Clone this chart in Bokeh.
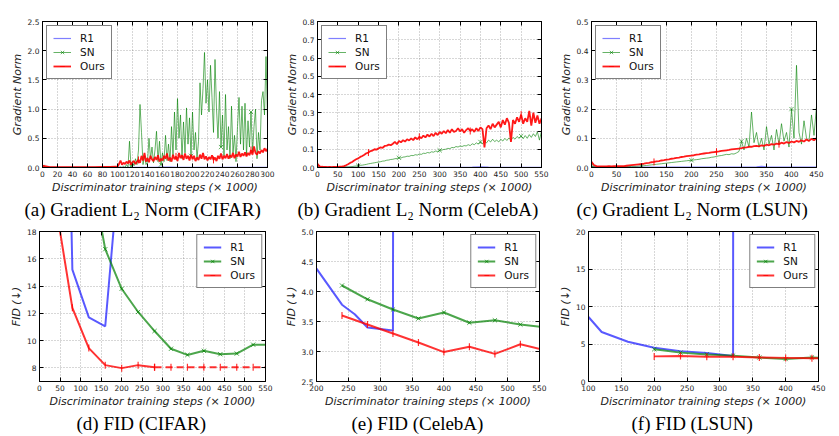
from bokeh.plotting import figure
from bokeh.layouts import column, row
from bokeh.models import (FixedTicker, PrintfTickFormatter, Range1d, Legend, LegendItem,
                          Title, LinearAxis)
from bokeh.embed import file_html
from bokeh.resources import INLINE

# ---------------- data: (a) gradient norm, CIFAR ----------------
a_head_x = [0, 10, 20, 30, 40, 50, 60, 70, 80, 90, 98]
a_sn_head = [0.010, 0.004, 0.003, 0.003, 0.004, 0.003, 0.003, 0.004, 0.005, 0.008, 0.005]
a_ours_head = [0.030, 0.008, 0.006, 0.006, 0.007, 0.006, 0.008, 0.008, 0.010, 0.012, 0.015]
a_x = list(range(100, 301, 2))
a_sn = [0.00, 0.00, 0.01, 0.00, 0.02, 0.00, 0.05, 0.01, 0.45, 0.02,
        0.10, 0.03, 0.15, 0.05, 0.30, 1.08, 0.60, 0.05, 0.20, 0.05,
        0.10, 0.50, 0.15, 0.35, 0.08, 0.30, 0.62, 0.10, 0.45, 0.05,
        0.25, 0.10, 0.55, 0.12, 0.40, 0.10, 0.70, 0.20, 0.95, 0.30,
        1.18, 0.50, 0.90, 0.15, 0.78, 0.25, 1.02, 0.40, 0.85, 0.20,
        0.95, 0.30, 0.60, 0.15, 0.45, 1.45, 0.90, 1.35, 1.97, 1.10,
        1.50, 0.95, 1.75, 1.20, 0.60, 1.85, 1.00, 0.50, 1.30, 0.35,
        0.90, 0.20, 1.25, 0.30, 0.70, 0.15, 1.05, 0.25, 0.55, 0.10,
        0.70, 1.20, 0.40, 1.05, 0.30, 1.10, 0.20, 0.80, 0.35, 0.95,
        0.25, 0.70, 1.00, 0.15, 0.60, 0.30, 1.15, 1.30, 0.90, 1.90,
        0.85]
a_ours = [0.01, 0.06, 0.12, 0.05, 0.08, 0.06, 0.10, 0.07, 0.12, 0.05,
          0.09, 0.11, 0.06, 0.10, 0.13, 0.08, 0.20, 0.12, 0.25, 0.10,
          0.16, 0.09, 0.20, 0.14, 0.11, 0.18, 0.13, 0.21, 0.10, 0.15,
          0.12, 0.20, 0.15, 0.24, 0.12, 0.17, 0.10, 0.22, 0.14, 0.19,
          0.11, 0.25, 0.16, 0.21, 0.13, 0.24, 0.15, 0.20, 0.12, 0.22,
          0.14, 0.20, 0.11, 0.17, 0.13, 0.22, 0.15, 0.25, 0.14, 0.19,
          0.12, 0.18, 0.14, 0.21, 0.13, 0.17, 0.11, 0.20, 0.15, 0.24,
          0.14, 0.20, 0.16, 0.23, 0.15, 0.21, 0.17, 0.25, 0.16, 0.22,
          0.19, 0.27, 0.18, 0.24, 0.20, 0.26, 0.19, 0.25, 0.21, 0.30,
          0.22, 0.36, 0.25, 0.22, 0.28, 0.24, 0.30, 0.26, 0.33, 0.28,
          0.32]
a_r1_x = [0, 50, 100, 150, 160, 170, 180, 200, 250, 300]
a_r1 = [0.003, 0.002, 0.002, 0.003, 0.006, 0.008, 0.003, 0.002, 0.002, 0.002]

# ---------------- data: (b) gradient norm, CelebA ----------------
b_x = list(range(0, 551, 5))
b_ours = [0.020, 0.006, 0.004, 0.003, 0.003, 0.002, 0.003, 0.002, 0.003, 0.003,
          0.003, 0.004, 0.005, 0.008, 0.012, 0.018, 0.025, 0.030, 0.038, 0.045,
          0.050, 0.058, 0.063, 0.070, 0.078, 0.082, 0.090, 0.093, 0.100, 0.098,
          0.105, 0.110, 0.108, 0.118, 0.120, 0.125, 0.122, 0.130, 0.140, 0.128,
          0.145, 0.138, 0.150, 0.142, 0.155, 0.148, 0.160, 0.150, 0.165, 0.155,
          0.168, 0.160, 0.175, 0.165, 0.180, 0.170, 0.185, 0.172, 0.190, 0.178,
          0.195, 0.185, 0.200, 0.188, 0.205, 0.190, 0.210, 0.195, 0.200, 0.215,
          0.198, 0.210, 0.190, 0.205, 0.215, 0.200, 0.210, 0.195, 0.215, 0.200,
          0.220, 0.210, 0.110, 0.215, 0.230, 0.210, 0.240, 0.220, 0.235, 0.250,
          0.220, 0.260, 0.235, 0.270, 0.245, 0.140, 0.260, 0.240, 0.275, 0.250,
          0.290, 0.240, 0.270, 0.250, 0.310, 0.230, 0.300, 0.245, 0.285, 0.240,
          0.270]
b_sn = [0.002, 0.001, 0.001, 0.001, 0.001, 0.001, 0.001, 0.001, 0.002, 0.001,
        0.002, 0.002, 0.002, 0.003, 0.003, 0.003, 0.004, 0.005, 0.007, 0.008,
        0.010, 0.012, 0.013, 0.015, 0.017, 0.020, 0.022, 0.024, 0.026, 0.028,
        0.030, 0.032, 0.035, 0.036, 0.040, 0.041, 0.044, 0.045, 0.048, 0.050,
        0.053, 0.052, 0.057, 0.058, 0.062, 0.061, 0.066, 0.065, 0.070, 0.068,
        0.074, 0.072, 0.078, 0.077, 0.082, 0.080, 0.086, 0.084, 0.090, 0.088,
        0.094, 0.095, 0.099, 0.100, 0.105, 0.103, 0.110, 0.108, 0.115, 0.112,
        0.118, 0.115, 0.120, 0.118, 0.125, 0.120, 0.130, 0.125, 0.135, 0.128,
        0.140, 0.130, 0.145, 0.135, 0.150, 0.140, 0.155, 0.142, 0.150, 0.140,
        0.155, 0.145, 0.160, 0.148, 0.162, 0.150, 0.165, 0.155, 0.170, 0.160,
        0.172, 0.158, 0.175, 0.160, 0.180, 0.165, 0.185, 0.170, 0.195, 0.150,
        0.200]
b_r1_x = [0, 100, 200, 300, 380, 400, 420, 450, 550]
b_r1 = [0.002, 0.001, 0.001, 0.001, 0.002, 0.004, 0.002, 0.001, 0.001]

# ---------------- data: (c) gradient norm, LSUN ----------------
c_x = list(range(0, 451, 5))
c_ours = [0.020, 0.008, 0.005, 0.004, 0.004, 0.004, 0.004, 0.005, 0.004, 0.005,
          0.005, 0.005, 0.005, 0.005, 0.006, 0.007, 0.008, 0.009, 0.010, 0.011,
          0.012, 0.013, 0.015, 0.016, 0.018, 0.019, 0.021, 0.022, 0.024, 0.025,
          0.027, 0.028, 0.030, 0.031, 0.033, 0.034, 0.036, 0.037, 0.039, 0.040,
          0.041, 0.042, 0.044, 0.045, 0.047, 0.048, 0.049, 0.050, 0.052, 0.053,
          0.054, 0.055, 0.057, 0.058, 0.059, 0.060, 0.062, 0.063, 0.064, 0.065,
          0.066, 0.068, 0.069, 0.071, 0.071, 0.073, 0.074, 0.072, 0.076, 0.074,
          0.078, 0.076, 0.080, 0.078, 0.082, 0.080, 0.085, 0.082, 0.087, 0.084,
          0.089, 0.086, 0.091, 0.088, 0.093, 0.089, 0.096, 0.091, 0.098, 0.093,
          0.100]
c_sn = [0.006, 0.003, 0.002, 0.002, 0.002, 0.002, 0.002, 0.002, 0.002, 0.002,
        0.002, 0.002, 0.003, 0.003, 0.003, 0.003, 0.004, 0.004, 0.004, 0.005,
        0.005, 0.006, 0.007, 0.008, 0.009, 0.010, 0.011, 0.012, 0.013, 0.014,
        0.015, 0.016, 0.017, 0.018, 0.019, 0.020, 0.021, 0.022, 0.023, 0.024,
        0.025, 0.026, 0.027, 0.028, 0.030, 0.031, 0.032, 0.033, 0.035, 0.036,
        0.038, 0.040, 0.041, 0.043, 0.045, 0.044, 0.047, 0.046, 0.050, 0.055,
        0.090, 0.060, 0.100, 0.070, 0.190, 0.085, 0.120, 0.070, 0.100, 0.060,
        0.140, 0.080, 0.110, 0.060, 0.130, 0.080, 0.150, 0.090, 0.120, 0.070,
        0.200, 0.100, 0.350, 0.120, 0.080, 0.160, 0.100, 0.090, 0.180, 0.110,
        0.210]
c_r1_x = [0, 100, 200, 300, 330, 340, 350, 400, 450]
c_r1 = [0.002, 0.001, 0.001, 0.001, 0.002, 0.004, 0.002, 0.001, 0.001]

# ---------------- data: (d) FID CIFAR ----------------
d_r1_x = [40, 80, 120, 160, 200]
d_r1 = [71.0, 15.2, 11.7, 11.05, 25.0]
d_sn_x = [120, 160, 200, 240, 280, 320, 360, 400, 440, 480, 520, 560]
d_sn = [23.2, 16.7, 13.8, 12.1, 10.7, 9.4, 8.95, 9.25, 9.0, 9.05, 9.7, 9.7]
d_ours_x = [40, 80, 120, 160, 200, 240, 280]
d_ours = [19.87, 12.4, 9.45, 8.2, 7.98, 8.2, 8.05]
d_ours_ext_x = [280, 320, 360, 400, 440, 480, 520, 560]
d_ours_ext = [8.05, 8.05, 8.05, 8.05, 8.05, 8.05, 8.05, 8.05]

# ---------------- data: (e) FID CelebA ----------------
e_r1_x = [200, 240, 260, 280, 320, 340]
e_r1 = [4.38, 3.78, 3.62, 3.40, 3.35, 200.0]
e_sn_x = [240, 280, 320, 360, 400, 440, 480, 520, 560]
e_sn = [4.1, 3.87, 3.7, 3.55, 3.65, 3.48, 3.52, 3.45, 3.4]
e_ours_x = [240, 280, 320, 360, 400, 440, 480, 520, 560]
e_ours = [3.6, 3.45, 3.3, 3.15, 2.99, 3.08, 2.96, 3.12, 3.02]

# ---------------- data: (f) FID LSUN ----------------
f_r1_x = [100, 120, 160, 200, 240, 280, 320, 340]
f_r1 = [8.6, 6.6, 5.3, 4.5, 4.05, 3.8, 3.4, 3000.0]
f_sn_x = [200, 240, 280, 320, 360, 400, 440, 480]
f_sn = [4.3, 3.85, 3.6, 3.45, 3.2, 3.0, 3.2, 3.1]
f_ours_x = [200, 240, 280, 320, 360, 400, 440, 480]
f_ours = [3.35, 3.4, 3.3, 3.3, 3.2, 3.15, 3.1, 3.1]

XLABEL = "Discriminator training steps (\u00d7 1000)"
FONT = "DejaVu Sans"
BLUE, GREEN, RED = "#0000ff", "#008000", "#ff0000"


def make_fig(width, height, left, right, top, bottom, xr, yr, xticks, yticks, yfmt, ylabel):
    p = figure(width=width, height=height, x_range=Range1d(*xr), y_range=Range1d(*yr),
               output_backend="svg", toolbar_location=None,
               min_border_left=left, min_border_right=right,
               min_border_top=top, min_border_bottom=bottom)
    p.outline_line_color = "black"
    p.outline_line_width = 1
    p.background_fill_color = "white"
    p.border_fill_color = "white"
    p.xaxis.ticker = FixedTicker(ticks=xticks)
    p.yaxis.ticker = FixedTicker(ticks=yticks)
    p.yaxis.formatter = PrintfTickFormatter(format=yfmt)
    for ax in (p.xaxis[0], p.yaxis[0]):
        ax.major_tick_in = 4
        ax.major_tick_out = 0
        ax.minor_tick_line_color = None
        ax.axis_line_color = "black"
        ax.major_tick_line_color = "black"
        ax.major_label_text_font = FONT
        ax.major_label_text_font_size = "7.5px"
        ax.major_label_text_color = "#222222"
        ax.major_label_standoff = 3
        ax.axis_label_text_font = FONT
        ax.axis_label_text_font_style = "italic"
        ax.axis_label_text_font_size = "11px"
        ax.axis_label_text_color = "#222222"
        ax.axis_label_standoff = 1
    p.xaxis.axis_label = XLABEL
    p.yaxis.axis_label = ylabel
    p.grid.grid_line_color = "black"
    p.grid.grid_line_alpha = 0.45
    p.grid.grid_line_dash = "1 2"
    p.grid.grid_line_width = 0.7
    # inward ticks on top and right sides
    top_ax = LinearAxis(ticker=FixedTicker(ticks=xticks), major_tick_in=4, major_tick_out=0,
                        minor_tick_line_color=None, major_label_text_color=None,
                        major_label_text_font_size="1px", major_label_standoff=0,
                        axis_line_color="black")
    right_ax = LinearAxis(ticker=FixedTicker(ticks=yticks), major_tick_in=4, major_tick_out=0,
                          minor_tick_line_color=None, major_label_text_color=None,
                          major_label_text_font_size="1px", major_label_standoff=0,
                          axis_line_color="black")
    p.add_layout(top_ax, "above")
    p.add_layout(right_ax, "right")
    return p


def add_caption(p, text, offset):
    t = Title(text=text, text_font="Liberation Serif", text_font_size="19px",
              text_font_style="normal", text_color="black", align="left", offset=offset,
              standoff=1)
    p.add_layout(t, "below")


def add_legend(p, items, loc, margin):
    lg = Legend(items=items, location=loc)
    lg.border_line_color = "black"
    lg.border_line_width = 1.5
    lg.background_fill_alpha = 1
    lg.label_text_font = FONT
    lg.label_text_font_size = "10.5px"
    lg.label_text_color = "#111111"
    lg.glyph_width = 18
    lg.glyph_height = 12
    lg.label_height = 12
    lg.label_standoff = 9
    lg.padding = 6
    lg.spacing = 2
    lg.margin = margin
    p.add_layout(lg)


def grad_panel(p, r1x, r1y, snx, sny, ox, oy):
    r1 = p.line(r1x, r1y, line_color=BLUE, line_alpha=0.5, line_width=1.2)
    snl = p.line(snx, sny, line_color=GREEN, line_alpha=0.6, line_width=1)
    sns = p.scatter(snx[::20], sny[::20], marker="x", size=6, line_color=GREEN, line_alpha=0.6)
    ol = p.line(ox, oy, line_color=RED, line_alpha=0.9, line_width=1.8)
    osc = p.scatter(ox[::25], oy[::25], marker="dash", angle=1.5708, size=7,
                    line_color=RED, line_alpha=0.9)
    add_legend(p, [LegendItem(label="R1", renderers=[r1]),
                   LegendItem(label="SN", renderers=[snl, sns]),
                   LegendItem(label="Ours", renderers=[ol, osc])], "top_left", 4)


def fid_panel(p, r1x, r1y, snx, sny, ox, oy, extx=None, exty=None):
    r1 = p.line(r1x, r1y, line_color=BLUE, line_alpha=0.65, line_width=2)
    snl = p.line(snx, sny, line_color=GREEN, line_alpha=0.7, line_width=2)
    sns = p.scatter(snx, sny, marker="x", size=6, line_color=GREEN, line_alpha=0.7)
    ol = p.line(ox, oy, line_color=RED, line_alpha=0.8, line_width=2)
    osc = p.scatter(ox, oy, marker="dash", angle=1.5708, size=7, line_color=RED,
                    line_alpha=0.8, line_width=1.2)
    if extx is not None:
        p.line(extx, exty, line_color=RED, line_alpha=0.8, line_width=2, line_dash="7 4")
        p.scatter(extx, exty, marker="dash", angle=1.5708, size=7, line_color=RED,
                  line_alpha=0.8, line_width=1.2)
    add_legend(p, [LegendItem(label="R1", renderers=[r1]),
                   LegendItem(label="SN", renderers=[snl, sns]),
                   LegendItem(label="Ours", renderers=[ol, osc])], "top_right", 3)


TOPH, BOTH = 220, 214

fa = make_fig(281, TOPH, 42, 14, 21, 52, (0, 300), (0, 2.5), list(range(0, 301, 20)),
              [0, 0.5, 1.0, 1.5, 2.0, 2.5], "%.1f", "Gradient Norm")
grad_panel(fa, a_r1_x, a_r1, a_head_x + a_x, a_sn_head + a_sn, a_head_x + a_x, a_ours_head + a_ours)
add_caption(fa, "(a) Gradient L\u2082 Norm (CIFAR)", -18)

fb = make_fig(274, TOPH, 36, 14, 21, 52, (0, 550), (0, 0.8), list(range(0, 551, 50)),
              [0, 0.1, 0.2, 0.3, 0.4, 0.5, 0.6, 0.7, 0.8], "%.1f", "Gradient Norm")
grad_panel(fb, b_r1_x, b_r1, b_x, b_sn, b_x, b_ours)
add_caption(fb, "(b) Gradient L\u2082 Norm (CelebA)", -20)

fc = make_fig(274, TOPH, 36, 13, 21, 52, (0, 450), (0, 0.5), list(range(0, 451, 50)),
              [0, 0.1, 0.2, 0.3, 0.4, 0.5], "%.1f", "Gradient Norm")
grad_panel(fc, c_r1_x, c_r1, c_x, c_sn, c_x, c_ours)
add_caption(fc, "(c) Gradient L\u2082 Norm (LSUN)", -15)

fd = make_fig(281, BOTH, 39, 16, 11, 51, (0, 550), (7, 18), list(range(0, 551, 50)),
              [8, 10, 12, 14, 16, 18], "%d", "FID (\u2193)")
fid_panel(fd, d_r1_x, d_r1, d_sn_x, d_sn, d_ours_x, d_ours, d_ours_ext_x, d_ours_ext)
add_caption(fd, "(d) FID (CIFAR)", 37)

fe = make_fig(274, BOTH, 35, 16, 11, 51, (200, 550), (2.5, 5.0), list(range(200, 551, 50)),
              [2.5, 3.0, 3.5, 4.0, 4.5, 5.0], "%.1f", "FID (\u2193)")
fid_panel(fe, e_r1_x, e_r1, e_sn_x, e_sn, e_ours_x, e_ours)
add_caption(fe, "(e) FID (CelebA)", 35)

ff = make_fig(274, BOTH, 33, 11, 11, 51, (100, 450), (0, 20), list(range(100, 451, 50)),
              [0, 5, 10, 15, 20], "%d", "FID (\u2193)")
fid_panel(ff, f_r1_x, f_r1, f_sn_x, f_sn, f_ours_x, f_ours)
add_caption(ff, "(f) FID (LSUN)", 43)

layout = column(row(fa, fb, fc), row(fd, fe, ff))
open("out.html", "w").write(file_html(layout, INLINE))
